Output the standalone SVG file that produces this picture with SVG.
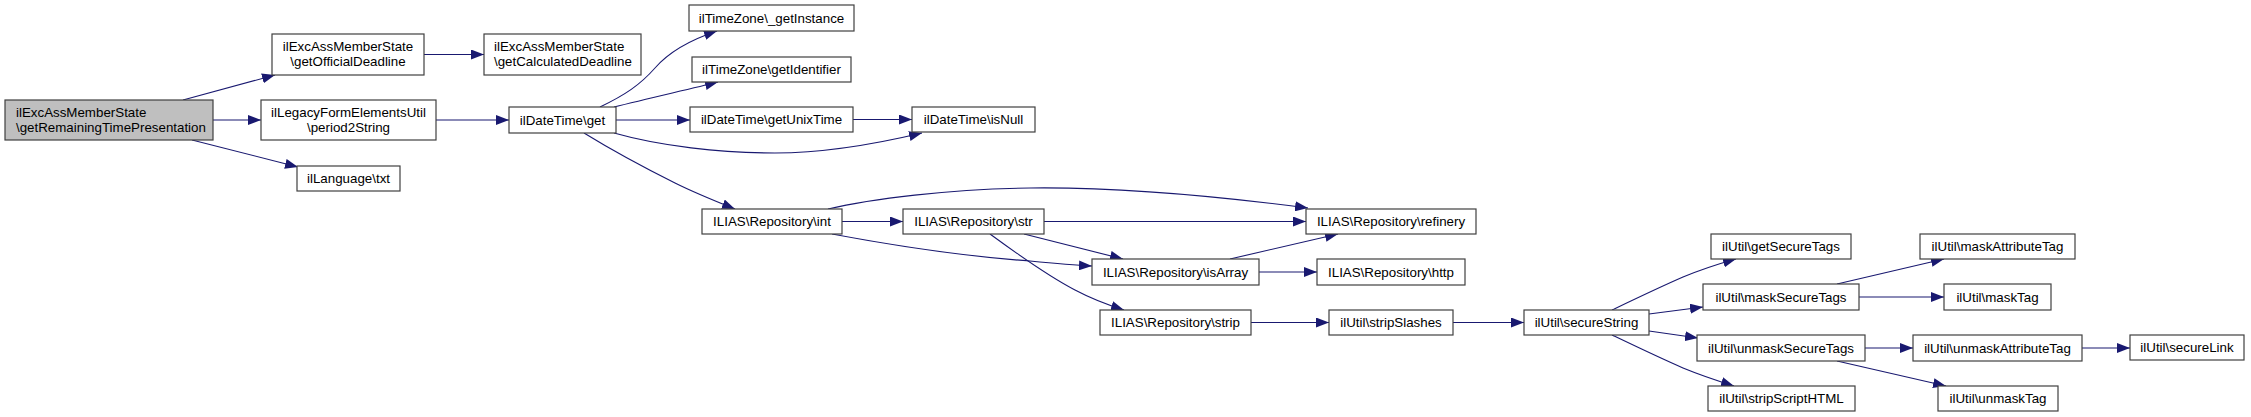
<svg xmlns="http://www.w3.org/2000/svg" width="2251" height="417" viewBox="0 0 2251 417">
<style>
.n rect{fill:#fff;stroke:#404040;stroke-width:1.2}
.n.main rect{fill:#bfbfbf}
.n text{font-family:"Liberation Sans",Arial,sans-serif;font-size:13.33px;fill:#000;text-anchor:middle}
.n text.l{text-anchor:start}
#edges path{fill:none;stroke:#191970;stroke-width:1.1;marker-end:url(#arr)}
</style>
<defs>
<marker id="arr" markerUnits="userSpaceOnUse" markerWidth="14" markerHeight="10" refX="13" refY="5" orient="auto">
<path d="M0,0 L13,5 L0,10 z" fill="#191970"/>
</marker>
</defs>
<rect width="2251" height="417" fill="#fff"/>
<g id="edges">
<path d="M183,100 L275,75"/>
<path d="M213,120 L261,120"/>
<path d="M192,140 L298,167"/>
<path d="M424,54.5 L484,54.5"/>
<path d="M436,120 L509,120"/>
<path d="M600,107 C625,95 640,85 655,68 C668,53 690,40 717,31"/>
<path d="M614,107 C650,98 690,89 718,82"/>
<path d="M616,120 L690,120"/>
<path d="M614,133 C660,146 720,153 775,153 C830,153 880,143 922,133"/>
<path d="M584,133 C610,149 645,168 675,183 C695,193 715,201 735,209"/>
<path d="M853,119.5 L912,119.5"/>
<path d="M842,221.5 L903,221.5"/>
<path d="M828,209 C870,199 950,189 1030,188 C1110,187 1200,194 1308,208"/>
<path d="M832,234 C880,243 960,256 1030,261 C1050,263 1070,265 1092,266"/>
<path d="M1044,221.5 L1306,221.5"/>
<path d="M1024,234 L1123,259"/>
<path d="M990,234 C1020,256 1050,277 1075,290 C1092,299 1108,305 1124,310"/>
<path d="M1230,259 L1338,234"/>
<path d="M1259,272 L1317,272"/>
<path d="M1251,322.5 L1329,322.5"/>
<path d="M1453,322.5 L1524,322.5"/>
<path d="M1612,310 C1635,299 1660,287 1683,277 C1700,270 1718,264 1736,259"/>
<path d="M1649,314 L1703,307"/>
<path d="M1649,331 L1698,338"/>
<path d="M1612,335 C1635,346 1660,358 1683,368 C1700,375 1718,381 1734,386"/>
<path d="M1837,284 L1944,259"/>
<path d="M1859,297 L1944,297"/>
<path d="M1865,348 L1913,348"/>
<path d="M1837,361 L1946,386"/>
<path d="M2082,348 L2130,348"/>
</g>
<g id="n_main" class="n main"><rect x="5" y="100" width="208" height="40"/><text class="l" x="16" y="116.5">ilExcAssMemberState</text><text class="l" x="16" y="131.5">\getRemainingTimePresentation</text></g>
<g id="n_getOfficialDeadline" class="n"><rect x="272" y="34" width="152" height="41"/><text x="348" y="51">ilExcAssMemberState</text><text x="348" y="66">\getOfficialDeadline</text></g>
<g id="n_period2String" class="n"><rect x="261" y="100" width="175" height="40"/><text x="348.5" y="116.5">ilLegacyFormElementsUtil</text><text x="348.5" y="131.5">\period2String</text></g>
<g id="n_txt" class="n"><rect x="297" y="166" width="103" height="25"/><text x="348.5" y="183">ilLanguage\txt</text></g>
<g id="n_getCalculatedDeadline" class="n"><rect x="484" y="34" width="157" height="41"/><text class="l" x="494" y="51">ilExcAssMemberState</text><text class="l" x="494" y="66">\getCalculatedDeadline</text></g>
<g id="n_get" class="n"><rect x="509" y="107" width="107" height="26"/><text x="562.5" y="124.5">ilDateTime\get</text></g>
<g id="n_getInstance" class="n"><rect x="689" y="5" width="165" height="26"/><text x="771.5" y="22.5">ilTimeZone\_getInstance</text></g>
<g id="n_getIdentifier" class="n"><rect x="692" y="57" width="159" height="25"/><text x="771.5" y="74">ilTimeZone\getIdentifier</text></g>
<g id="n_getUnixTime" class="n"><rect x="690" y="107" width="163" height="25"/><text x="771.5" y="124">ilDateTime\getUnixTime</text></g>
<g id="n_int" class="n"><rect x="702" y="209" width="140" height="25"/><text x="772" y="226">ILIAS\Repository\int</text></g>
<g id="n_isNull" class="n"><rect x="912" y="107" width="123" height="25"/><text x="973.5" y="124">ilDateTime\isNull</text></g>
<g id="n_str" class="n"><rect x="903" y="209" width="141" height="25"/><text x="973.5" y="226">ILIAS\Repository\str</text></g>
<g id="n_isArray" class="n"><rect x="1092" y="259" width="167" height="26"/><text x="1175.5" y="276.5">ILIAS\Repository\isArray</text></g>
<g id="n_strip" class="n"><rect x="1100" y="310" width="151" height="25"/><text x="1175.5" y="327">ILIAS\Repository\strip</text></g>
<g id="n_refinery" class="n"><rect x="1306" y="209" width="170" height="25"/><text x="1391" y="226">ILIAS\Repository\refinery</text></g>
<g id="n_http" class="n"><rect x="1317" y="259" width="148" height="26"/><text x="1391" y="276.5">ILIAS\Repository\http</text></g>
<g id="n_stripSlashes" class="n"><rect x="1329" y="310" width="124" height="25"/><text x="1391" y="327">ilUtil\stripSlashes</text></g>
<g id="n_secureString" class="n"><rect x="1524" y="310" width="125" height="25"/><text x="1586.5" y="327">ilUtil\secureString</text></g>
<g id="n_getSecureTags" class="n"><rect x="1711" y="234" width="140" height="25"/><text x="1781" y="251">ilUtil\getSecureTags</text></g>
<g id="n_maskSecureTags" class="n"><rect x="1703" y="284" width="156" height="26"/><text x="1781" y="301.5">ilUtil\maskSecureTags</text></g>
<g id="n_unmaskSecureTags" class="n"><rect x="1697" y="335" width="168" height="26"/><text x="1781" y="352.5">ilUtil\unmaskSecureTags</text></g>
<g id="n_stripScriptHTML" class="n"><rect x="1708" y="386" width="147" height="25"/><text x="1781.5" y="403">ilUtil\stripScriptHTML</text></g>
<g id="n_maskAttributeTag" class="n"><rect x="1920" y="234" width="155" height="25"/><text x="1997.5" y="251">ilUtil\maskAttributeTag</text></g>
<g id="n_maskTag" class="n"><rect x="1944" y="284" width="107" height="26"/><text x="1997.5" y="301.5">ilUtil\maskTag</text></g>
<g id="n_unmaskAttributeTag" class="n"><rect x="1913" y="335" width="169" height="26"/><text x="1997.5" y="352.5">ilUtil\unmaskAttributeTag</text></g>
<g id="n_unmaskTag" class="n"><rect x="1938" y="386" width="120" height="25"/><text x="1998" y="403">ilUtil\unmaskTag</text></g>
<g id="n_secureLink" class="n"><rect x="2130" y="335" width="114" height="25"/><text x="2187" y="352">ilUtil\secureLink</text></g>
</svg>
